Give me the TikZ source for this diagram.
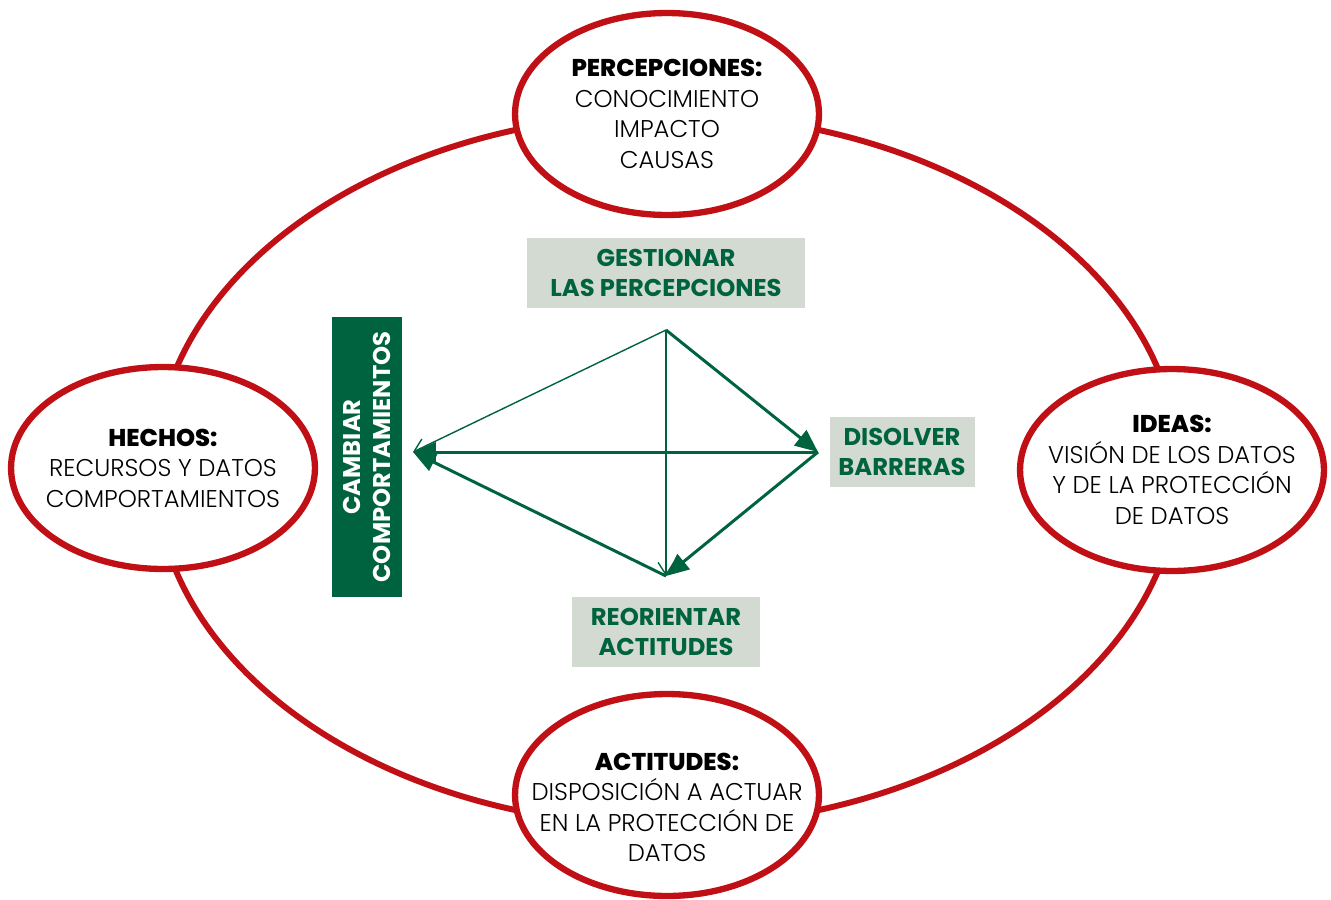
\documentclass[tikz,border=0pt]{standalone}
\usepackage{fontspec}
\setmainfont{Poppins}[UprightFont=* Light, BoldFont=* Bold]
\newfontfamily\heavy{Poppins ExtraBold}
\usepackage{tikz}
\usetikzlibrary{arrows.meta,shapes.geometric,positioning}
\definecolor{ocred}{RGB}{192,16,22}
\definecolor{ocgreen}{RGB}{0,99,63}
\definecolor{ocgrey}{RGB}{210,218,210}
\newcommand{\topichead}[1]{{\heavy #1}}
\tikzstyle{topic} = [ellipse, draw=ocred, line width=3.6pt, fill=white, minimum width=6.08cm, minimum height=4.04cm, inner xsep=-0.6cm, inner ysep=0pt, align=center, font=\fontsize{13.8}{17.4}\selectfont]
\tikzstyle{action} = [rectangle, fill=ocgrey, text=ocgreen, align=center, font=\fontsize{13.8}{17.4}\selectfont\bfseries, minimum height=1.4cm, inner sep=0pt]
\tikzstyle{thinarrow} = [->, >={Straight Barb[length=7pt,width=9pt]}, ocgreen, line width=0.8pt]
\tikzstyle{thickarrow} = [-{Triangle[length=13pt,width=11pt]}, ocgreen, line width=1.7pt]

\begin{document}
\begin{tikzpicture}[x=0.02cm, y=-0.02cm]
\useasboundingbox (0,0) rectangle (1331,899);
% outer cycle
\draw[ocred, line width=3.4pt] (667,470) ellipse [x radius=10.24cm, y radius=7.12cm];

% the four topics
\node (percep) [topic] at (667,114) {\topichead{PERCEPCIONES:}\\CONOCIMIENTO\\IMPACTO\\CAUSAS};
\node (hechos) [topic] at (163,468) {\topichead{HECHOS:}\\RECURSOS Y DATOS\\COMPORTAMIENTOS};
\node (ideas) [topic] at (1172,470) {\topichead{IDEAS:}\\VISIÓN DE LOS DATOS\\Y DE LA PROTECCIÓN\\DE DATOS};
\node (actit) [topic] at (667,795) {\rule{0pt}{24pt}\topichead{ACTITUDES:}\\DISPOSICIÓN A ACTUAR\\EN LA PROTECCIÓN DE\\DATOS};

% actions
\node (gestionar) [action, minimum width=5.56cm] at (666,273) {GESTIONAR\\LAS PERCEPCIONES};
\node (disolver) [action, minimum width=2.9cm] at (902,452) {DISOLVER\\BARRERAS};
\node (reorientar) [action, minimum width=3.78cm] at (666,632) {REORIENTAR\\ACTITUDES};
\node (cambiar) [action, fill=ocgreen, text=white, rotate=90, minimum width=5.6cm, minimum height=1.42cm] at (367,457) {CAMBIAR\\COMPORTAMIENTOS};

% diamond of arrows
\coordinate (vtop) at (666,330);
\coordinate (vright) at (818,452);
\coordinate (vleft) at (413,452);
\coordinate (vbottom) at (666,576);
\draw[thinarrow] (vtop) -- (vleft);
\draw[thinarrow] (vtop) -- (vbottom);
\draw[thickarrow] (vtop) -- (vright);
\draw[thickarrow] (vright) -- (vleft);
\draw[thickarrow] (vright) -- (vbottom);
\draw[thickarrow] (vbottom) -- (vleft);
\end{tikzpicture}
\end{document}
